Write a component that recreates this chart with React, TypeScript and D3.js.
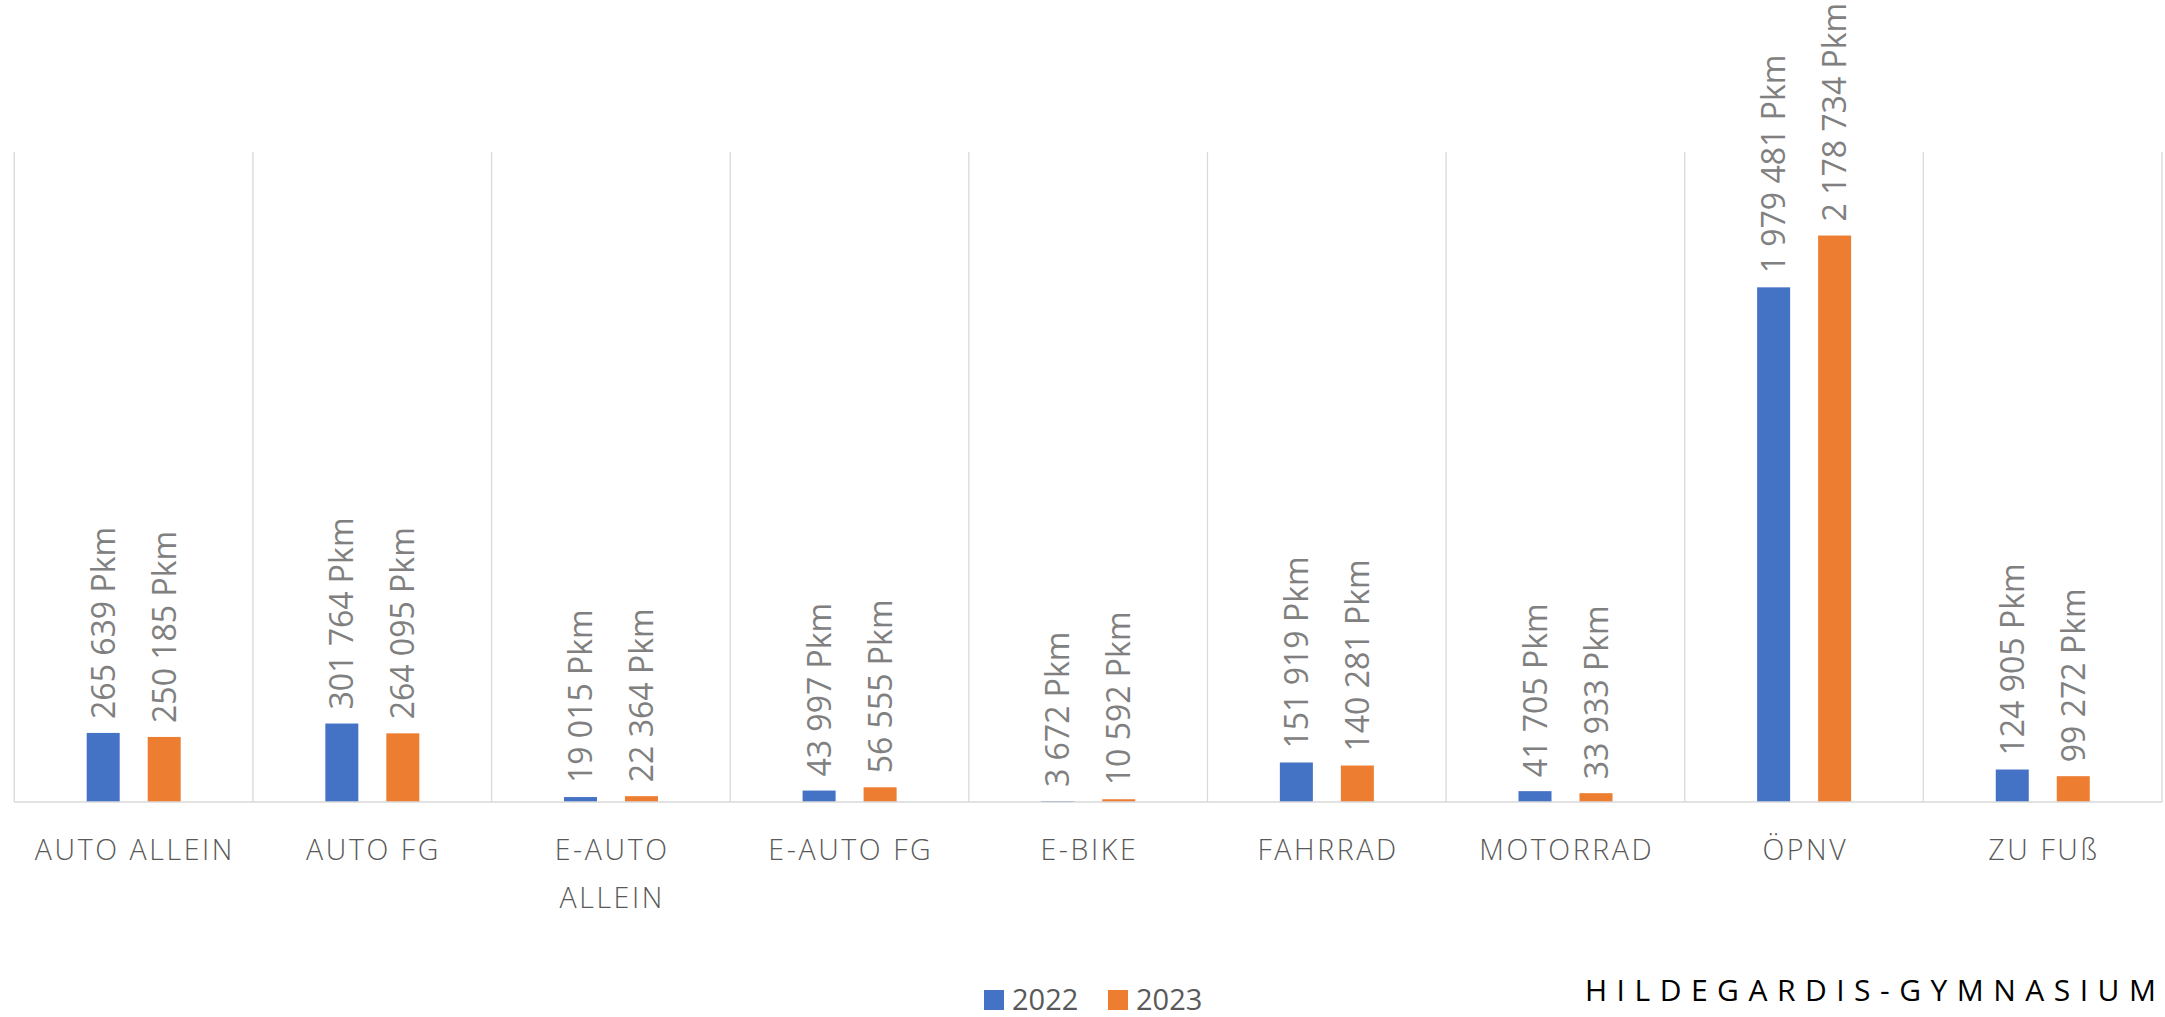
import React from "react";
import * as d3 from "d3";

const categories = ["AUTO ALLEIN", "AUTO FG", "E-AUTO ALLEIN", "E-AUTO FG", "E-BIKE", "FAHRRAD", "MOTORRAD", "ÖPNV", "ZU FUß"];
const seriesNames = ["2022", "2023"];
const values2022 = [265639, 301764, 19015, 43997, 3672, 151919, 41705, 1979481, 124905];
const values2023 = [250185, 264095, 22364, 56555, 10592, 140281, 33933, 2178734, 99272];
const colors = ["#4472C4", "#ED7D31"];
const unit = "Pkm";
const footer = "HILDEGARDIS-GYMNASIUM";

const W = 2165;
const H = 1017;
const FONT = "'Open Sans', 'Liberation Sans', sans-serif";

function wrapLabel(s: string): string[] {
  if (s.length <= 12) return [s];
  const i = s.lastIndexOf(" ");
  return i > 0 ? [s.slice(0, i), s.slice(i + 1)] : [s];
}

export default function App() {
  const seriesValues = [values2022, values2023];
  const x0 = d3.scaleBand<string>().domain(categories).range([14.3, 2162]).padding(0);
  const x1 = d3.scaleBand<string>().domain(seriesNames).range([72.4, 166.4]).paddingInner(0.459).paddingOuter(0);
  const y = d3.scaleLinear().domain([0, 2500000]).range([802, 152]);
  const fmt = (v: number) => d3.format(",")(v).replace(/,/g, " ") + " " + unit;
  const [y0, y1] = y.range();
  const gridXs = categories.map((c) => x0(c)!).concat([x0.range()[1]]);

  return (
    <svg width={W} height={H} style={{ position: "absolute", left: 0, top: 0, background: "#fff" }} fontFamily={FONT}>
      <rect x={0} y={0} width={W} height={H} fill="#fff" />
      {gridXs.map((gx, i) => (
        <line key={"g" + i} x1={gx} x2={gx} y1={y1} y2={y0} stroke="#d9d9d9" strokeWidth={1.3} />
      ))}
      {categories.map((c, ci) => (
        <g key={c} transform={`translate(${x0(c)},0)`}>
          {seriesNames.map((s, si) => {
            const v = seriesValues[si][ci];
            const bx = x1(s)!;
            const bw = x1.bandwidth();
            const top = y(v);
            return (
              <g key={s}>
                <rect x={bx} y={top} width={bw} height={y0 - top} fill={colors[si]} />
                <text
                  transform={`translate(${bx + bw / 2},${top - 14}) rotate(-90)`}
                  dy="0.36em"
                  fontSize={32}
                  fill="#808080"
                  textAnchor="start"
                >
                  {fmt(v)}
                </text>
              </g>
            );
          })}
          {wrapLabel(c).map((line, li) => (
            <text
              key={li}
              x={x0.bandwidth() / 2 + 1.3}
              y={860 + li * 48}
              textAnchor="middle"
              fontSize={28.5}
              fontWeight={300}
              letterSpacing={2.6}
              fill="#595959"
            >
              {line}
            </text>
          ))}
        </g>
      ))}
      <line x1={x0.range()[0]} x2={x0.range()[1]} y1={y0} y2={y0} stroke="#d9d9d9" strokeWidth={1.5} />
      {seriesNames.map((s, si) => {
        const lx = [984, 1108][si];
        return (
          <g key={"lg" + s}>
            <rect x={lx} y={990} width={20} height={20} fill={colors[si]} />
            <text x={lx + 28} y={1010} fontSize={29} fill="#595959">
              {s}
            </text>
          </g>
        );
      })}
      <text x={1585} y={1001} fontSize={30} letterSpacing={9.5} fill="#000">
        {footer}
      </text>
    </svg>
  );
}
